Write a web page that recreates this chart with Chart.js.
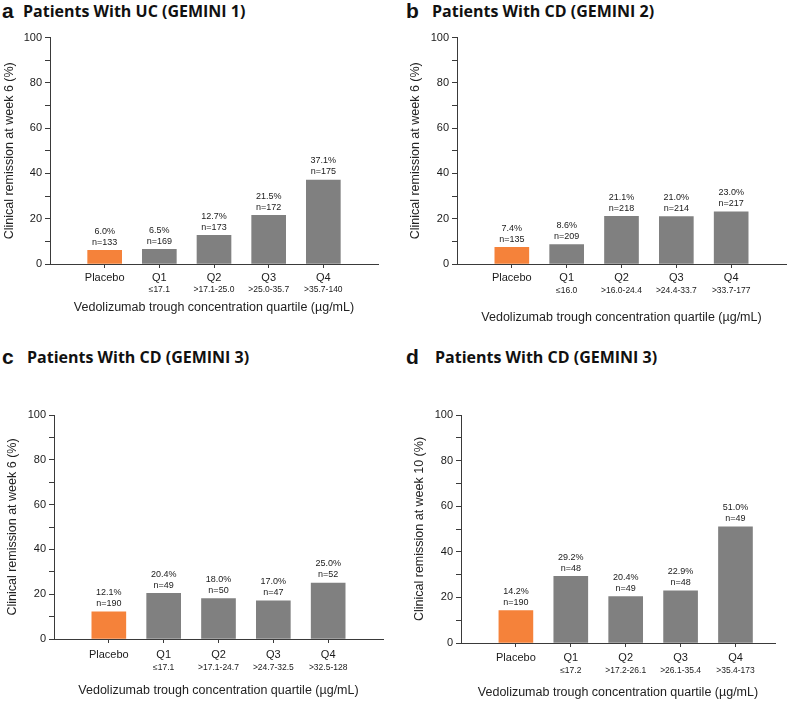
<!DOCTYPE html>
<html><head><meta charset="utf-8">
<script src="https://cdn.jsdelivr.net/npm/chart.js@4.4.1/dist/chart.umd.min.js"></script>
<style>
html,body{margin:0;padding:0;background:#fff;}
body{width:790px;height:703px;position:relative;overflow:hidden;font-family:"Liberation Sans",Arial,sans-serif;}
.panel{position:absolute;}
.ttl{position:absolute;white-space:nowrap;font-family:"Open Sans",sans-serif;font-weight:700;font-size:16px;color:#111;line-height:20px;}
.let{position:absolute;font-family:"Liberation Sans",Arial,sans-serif;font-weight:700;font-size:21px;color:#111;line-height:20px;}
</style></head><body>
<div class="let" style="left:2px;top:1px">a</div>
<div class="ttl" style="left:23px;top:1px">Patients With UC (GEMINI 1)</div>
<div class="let" style="left:406px;top:1px">b</div>
<div class="ttl" style="left:432px;top:1px">Patients With CD (GEMINI 2)</div>
<div class="let" style="left:2px;top:347px">c</div>
<div class="ttl" style="left:27px;top:347px">Patients With CD (GEMINI 3)</div>
<div class="let" style="left:406px;top:347px">d</div>
<div class="ttl" style="left:435px;top:347px">Patients With CD (GEMINI 3)</div>

<div class="panel" style="left:0;top:28px"><canvas id="ca" width="395" height="302"></canvas></div>
<div class="panel" style="left:395px;top:28px"><canvas id="cb" width="395" height="302"></canvas></div>
<div class="panel" style="left:0;top:380px"><canvas id="cc" width="395" height="323"></canvas></div>
<div class="panel" style="left:395px;top:380px"><canvas id="cd" width="395" height="323"></canvas></div>

<script>
const categories = ['Placebo', 'Q1', 'Q2', 'Q3', 'Q4'];
const yTickLabels = ['0', '20', '40', '60', '80', '100'];

const rangesA = ['', '≤17.1', '>17.1-25.0', '>25.0-35.7', '>35.7-140'];
const valuesA = [6.0, 6.5, 12.7, 21.5, 37.1];
const nA = [133, 169, 173, 172, 175];

const rangesB = ['', '≤16.0', '>16.0-24.4', '>24.4-33.7', '>33.7-177'];
const valuesB = [7.4, 8.6, 21.1, 21.0, 23.0];
const nB = [135, 209, 218, 214, 217];

const rangesC = ['', '≤17.1', '>17.1-24.7', '>24.7-32.5', '>32.5-128'];
const valuesC = [12.1, 20.4, 18.0, 17.0, 25.0];
const nC = [190, 49, 50, 47, 52];

const rangesD = ['', '≤17.2', '>17.2-26.1', '>26.1-35.4', '>35.4-173'];
const valuesD = [14.2, 29.2, 20.4, 22.9, 51.0];
const nD = [190, 48, 49, 48, 49];

const xTitle = 'Vedolizumab trough concentration quartile (µg/mL)';
const yTitle6 = 'Clinical remission at week 6 (%)';
const yTitle10 = 'Clinical remission at week 10 (%)';

const ORANGE = '#F5823A', GRAY = '#808080', AXIS = '#3a3a3a', TXT = '#1a1a1a';
const FAM = '"Liberation Sans", Arial, sans-serif';

function makeChart(id, d) {
  const box = d.box, plot = d.plot;
  const valuePlugin = {
    id: 'vals' + id,
    afterDatasetsDraw(chart) {
      const ctx = chart.ctx;
      const meta = chart.getDatasetMeta(0);
      ctx.save();
      ctx.font = '9px ' + FAM;
      ctx.fillStyle = TXT;
      ctx.textAlign = 'center';
      ctx.textBaseline = 'middle';
      meta.data.forEach((bar, i) => {
        ctx.fillText(d.values[i].toFixed(1) + '%', bar.x, bar.y - 19);
        ctx.fillText('n=' + d.ns[i], bar.x, bar.y - 8);
      });
      ctx.restore();
    },
    afterDraw(chart) {
      const ctx = chart.ctx, xs = chart.scales.x;
      ctx.save();
      ctx.font = '8.5px ' + FAM;
      ctx.fillStyle = TXT;
      ctx.textAlign = 'center';
      ctx.textBaseline = 'middle';
      d.ranges.forEach((r, i) => {
        ctx.fillText(r, xs.getPixelForValue(i), chart.chartArea.bottom + (d.subY - plot.b));
      });
      ctx.restore();
    }
  };
  return new Chart(document.getElementById(id), {
    type: 'bar',
    data: {
      datasets: [{
        data: d.values.map((v, i) => ({x: i, y: v})),
        backgroundColor: d.values.map((_, i) => i === 0 ? ORANGE : GRAY),
        borderWidth: 0,
        barThickness: 34
      }]
    },
    options: {
      responsive: false,
      animation: false,
      layout: {padding: {left: 0, top: plot.t - box.t, right: box.l + box.w - plot.r, bottom: 0}},
      plugins: {legend: {display: false}, tooltip: {enabled: false}},
      scales: {
        x: {
          type: 'linear', min: -1, max: d.xMax, offset: false,
          afterBuildTicks: s => { s.ticks = categories.map((_, i) => ({value: i})); },
          afterFit: s => { s.height = box.t + box.h - plot.b; },
          ticks: {
            callback: v => categories[v] ?? '',
            font: {size: 11, family: FAM}, color: TXT,
            padding: d.labelY - plot.b - 4 - 6.6,
            autoSkip: false, maxRotation: 0
          },
          grid: {drawOnChartArea: false, drawTicks: true, tickLength: 4, color: AXIS, offset: false},
          border: {color: AXIS, width: 1},
          title: {display: true, text: xTitle, font: {size: 12.5, family: FAM}, color: '#222',
                  padding: {top: 0, bottom: box.t + box.h - d.xTitleY - 7.5}}
        },
        y: {
          min: 0, max: 100,
          afterFit: s => { s.width = plot.l - box.l; },
          ticks: {
            stepSize: 10,
            callback: v => v % 20 === 0 ? yTickLabels[v / 20] : '',
            font: {size: 11, family: FAM}, color: TXT, padding: 3
          },
          grid: {drawOnChartArea: false, drawTicks: true, tickLength: 5, color: AXIS},
          border: {color: AXIS, width: 1},
          title: {display: true, text: d.yTitle, font: {size: 12.5, family: FAM}, color: '#222',
                  padding: {top: d.yTitleX - box.l - 7.5, bottom: 0}}
        }
      }
    },
    plugins: [valuePlugin]
  });
}

makeChart('ca', {values: valuesA, ns: nA, ranges: rangesA, yTitle: yTitle6,
  box: {l: 0, t: 28, w: 395, h: 302}, plot: {l: 50, t: 35, r: 378, b: 264},
  xMax: 5, yTitleX: 10, labelY: 278, subY: 290, xTitleY: 308});
makeChart('cb', {values: valuesB, ns: nB, ranges: rangesB, yTitle: yTitle6,
  box: {l: 395, t: 28, w: 395, h: 302}, plot: {l: 457, t: 35, r: 786, b: 264},
  xMax: 5, yTitleX: 416, labelY: 278, subY: 291, xTitleY: 318});
makeChart('cc', {values: valuesC, ns: nC, ranges: rangesC, yTitle: yTitle6,
  box: {l: 0, t: 380, w: 395, h: 323}, plot: {l: 54, t: 415, r: 383, b: 639},
  xMax: 5, yTitleX: 13, labelY: 655, subY: 668, xTitleY: 691});
makeChart('cd', {values: valuesD, ns: nD, ranges: rangesD, yTitle: yTitle10,
  box: {l: 395, t: 380, w: 395, h: 323}, plot: {l: 461, t: 415, r: 775, b: 643},
  xMax: 4.72, yTitleX: 420, labelY: 658, subY: 671, xTitleY: 693});
</script>
</body></html>
